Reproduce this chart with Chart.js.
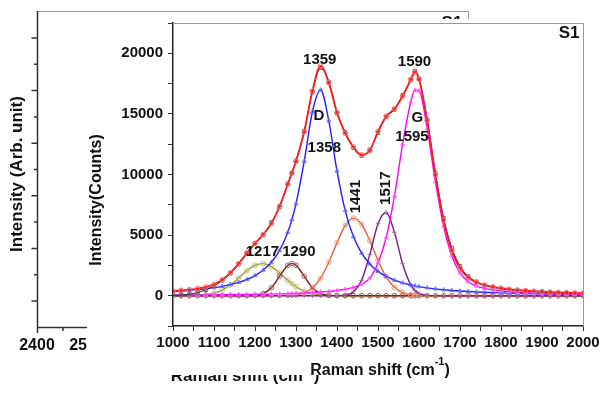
<!DOCTYPE html>
<html>
<head>
<meta charset="utf-8">
<script src="https://cdn.jsdelivr.net/npm/chart.js@4.4.0/dist/chart.umd.min.js"></script>
<style>
  html, body { margin: 0; padding: 0; background: #fff; }
  #wrap { width: 604px; height: 394px; }
</style>
</head>
<body>
<div id="wrap"><canvas id="ramanChart" width="604" height="394"></canvas></div>
<script>
// Raman shift (cm-1) sampling of the spectrum
const ramanShift = [1000, 1020, 1040, 1060, 1080, 1100, 1120, 1140, 1160, 1180, 1200, 1220, 1240, 1260, 1280, 1290,
  1300, 1320, 1340, 1360, 1380, 1400, 1420, 1440, 1460, 1480, 1500, 1520, 1540, 1560, 1580, 1590,
  1600, 1620, 1640, 1660, 1680, 1700, 1720, 1740, 1760, 1780, 1800, 1820, 1840, 1860, 1880, 1900,
  1920, 1940, 1960, 1980, 2000];

// measured spectrum (black squares)
const measured = [30, 60, 120, 260, 480, 800, 1250, 1850, 2600, 3550, 4350, 5000, 6050, 7300, 9250, 10100,
  11150, 13600, 16800, 18800, 17650, 15050, 13500, 12200, 11550, 12050, 13450, 14750, 15350, 16550, 17800, 18550,
  17900, 14500, 10100, 6400, 3950, 2450, 1600, 1150, 850, 700, 580, 500, 430, 380, 330, 300,
  260, 240, 210, 190, 170];

// cumulative fit (red)
const fitTotal = [399, 447, 507, 590, 721, 945, 1315, 1883, 2640, 3496, 4311, 5054, 5962, 7380, 9198, 10130,
  11088, 13518, 16893, 18960, 17582, 15109, 13397, 12273, 11623, 11988, 13558, 14814, 15419, 16452, 17840, 18450,
  17863, 14457, 9968, 6235, 3721, 2262, 1499, 1104, 879, 731, 623, 540, 473, 418, 374, 336,
  304, 277, 253, 233, 215];

// fitted bands
const peakD = [351, 393, 443, 502, 575, 664, 774, 915, 1097, 1337, 1661, 2114, 2765, 3735, 5231, 6273,
  7576, 11082, 15179, 16975, 14419, 10291, 7020, 4875, 3507, 2614, 2010, 1588, 1283, 1057, 884, 813,
  750, 644, 559, 489, 432, 384, 344, 309, 280, 254, 232, 213, 196, 180, 167, 155,
  144, 135, 126, 118, 111];

const peakG = [48, 52, 56, 60, 64, 70, 76, 82, 90, 99, 109, 121, 134, 151, 170, 181,
  193, 222, 257, 301, 357, 430, 532, 683, 945, 1453, 2700, 4800, 8200, 12500, 16000, 16950,
  16900, 13780, 9406, 5746, 3289, 1878, 1155, 795, 599, 477, 391, 327, 277, 238, 207, 181,
  160, 142, 127, 115, 104];

const peak1217 = [0, 2, 8, 28, 82, 211, 465, 886, 1453, 2057, 2512, 2645, 2403, 1882, 1272, 989,
  741, 373, 161, 60, 20, 5, 1, 0, 0, 0, 0, 0, 0, 0, 0, 0,
  0, 0, 0, 0, 0, 0, 0, 0, 0, 0, 0, 0, 0, 0, 0, 0,
  0, 0, 0, 0, 0];

const peak1290 = [0, 0, 0, 0, 0, 0, 0, 0, 0, 3, 29, 174, 660, 1608, 2507, 2650,
  2507, 1608, 660, 174, 29, 3, 0, 0, 0, 0, 0, 0, 0, 0, 0, 0,
  0, 0, 0, 0, 0, 0, 0, 0, 0, 0, 0, 0, 0, 0, 0, 0,
  0, 0, 0, 0, 0];

const peak1441 = [0, 0, 0, 0, 0, 0, 0, 0, 0, 0, 0, 0, 0, 4, 18, 37,
  71, 233, 636, 1450, 2757, 4374, 5792, 6399, 5898, 4536, 2911, 1558, 696, 259, 81, 42,
  21, 5, 0, 0, 0, 0, 0, 0, 0, 0, 0, 0, 0, 0, 0, 0,
  0, 0, 0, 0, 0];

const peak1517 = [0, 0, 0, 0, 0, 0, 0, 0, 0, 0, 0, 0, 0, 0, 0, 0,
  0, 0, 0, 0, 0, 6, 52, 316, 1273, 3385, 5937, 6868, 5240, 2636, 875, 431,
  192, 28, 3, 0, 0, 0, 0, 0, 0, 0, 0, 0, 0, 0, 0, 0,
  0, 0, 0, 0, 0];

const yTickLabels = [0, 5000, 10000, 15000, 20000];

// peak annotations (text, x in cm-1, y in counts, rotated?)
const peakNotes = [
  { text: "1359", x: 1358, y: 19470 },
  { text: "D", x: 1356, y: 14850 },
  { text: "1358", x: 1369, y: 12210 },
  { text: "1590", x: 1589, y: 19265 },
  { text: "G", x: 1596, y: 14690 },
  { text: "1595", x: 1583, y: 13120 },
  { text: "1217", x: 1218, y: 3630 },
  { text: "1290", x: 1307, y: 3630 },
  { text: "1441", x: 1445, y: 8170, rotate: true },
  { text: "1517", x: 1519, y: 8870, rotate: true },
];

const FONT = '"Liberation Sans", Arial, sans-serif';

function series(label, values, color, markColor, style, width) {
  return {
    label: label,
    data: ramanShift.map((x, i) => ({ x: x, y: values[i] })),
    borderColor: color,
    borderWidth: width || 1.4,
    pointStyle: style,
    pointRadius: 2.3,
    pointBorderWidth: 1,
    pointBorderColor: markColor,
    pointBackgroundColor: "rgba(0,0,0,0)",
    cubicInterpolationMode: "monotone",
    fill: false,
  };
}

function superTitle(ctx, cx, base, size) {
  const main = "Raman shift (cm";
  ctx.font = "bold " + size + "px " + FONT;
  const w1 = ctx.measureText(main).width;
  const w3 = ctx.measureText(")").width;
  ctx.font = "bold " + Math.round(size * 0.7) + "px " + FONT;
  const w2 = ctx.measureText("-1").width;
  let x = cx - (w1 + w2 + w3) / 2;
  ctx.textAlign = "left";
  ctx.textBaseline = "alphabetic";
  ctx.font = "bold " + size + "px " + FONT;
  ctx.fillText(main, x, base);
  ctx.font = "bold " + Math.round(size * 0.7) + "px " + FONT;
  ctx.fillText("-1", x + w1, base - size * 0.6);
  ctx.font = "bold " + size + "px " + FONT;
  ctx.fillText(")", x + w1 + w2, base);
}

// the other panel peeking out behind the main plot
const backPanel = {
  id: "backPanel",
  beforeDraw(chart) {
    const ctx = chart.ctx;
    ctx.save();
    ctx.fillStyle = "#fff";
    ctx.fillRect(0, 0, chart.width, chart.height);

    ctx.strokeStyle = "#999";
    ctx.lineWidth = 1;
    ctx.beginPath();
    ctx.moveTo(37, 11.5);
    ctx.lineTo(468.5, 11.5);
    ctx.lineTo(468.5, 40);
    ctx.stroke();

    ctx.strokeStyle = "#333";
    ctx.lineWidth = 1.5;
    ctx.beginPath();
    ctx.moveTo(37.5, 11);
    ctx.lineTo(37.5, 327.5);
    ctx.lineTo(120, 327.5);
    for (let k = 1; k <= 11; k++) {
      const y = 11.7 + k * 26.3;
      const len = k % 2 ? 6 : 3.5;
      ctx.moveTo(37.5 - len, y);
      ctx.lineTo(37.5, y);
    }
    ctx.moveTo(37.5, 327.5);
    ctx.lineTo(37.5, 333);
    ctx.moveTo(63, 327.5);
    ctx.lineTo(63, 331);
    ctx.stroke();

    ctx.fillStyle = "#111";
    ctx.font = "bold 16px " + FONT;
    ctx.textAlign = "center";
    ctx.textBaseline = "middle";
    ctx.fillText("2400", 37, 346);
    ctx.fillText("2500", 87, 346);
    ctx.font = "bold 17px " + FONT;
    ctx.fillText("S1", 452, 23);

    ctx.save();
    ctx.translate(17, 174);
    ctx.rotate(-Math.PI / 2);
    ctx.font = "bold 17px " + FONT;
    ctx.fillText("Intensity (Arb. unit)", 0, 0);
    ctx.restore();

    superTitle(ctx, 245, 381, 17);

    // main panel background
    ctx.fillStyle = "#fff";
    ctx.fillRect(87, 19, 517, 356);
    ctx.restore();
  },
};

const annotate = {
  id: "annotate",
  afterDatasetsDraw(chart) {
    const ctx = chart.ctx;
    const a = chart.chartArea;
    const sx = chart.scales.x;
    const sy = chart.scales.y;
    ctx.save();
    ctx.strokeStyle = "#999";
    ctx.lineWidth = 1;
    ctx.beginPath();
    ctx.moveTo(a.left, a.top + 0.5);
    ctx.lineTo(a.right + 0.5, a.top + 0.5);
    ctx.lineTo(a.right + 0.5, a.bottom);
    ctx.stroke();

    ctx.fillStyle = "#111";
    ctx.font = "bold 15px " + FONT;
    ctx.textAlign = "center";
    ctx.textBaseline = "middle";
    peakNotes.forEach((n) => {
      const px = sx.getPixelForValue(n.x);
      const py = sy.getPixelForValue(n.y);
      if (n.rotate) {
        ctx.save();
        ctx.translate(px, py);
        ctx.rotate(-Math.PI / 2);
        ctx.fillText(n.text, 0, 0);
        ctx.restore();
      } else {
        ctx.fillText(n.text, px, py);
      }
    });
    ctx.font = "bold 17px " + FONT;
    ctx.fillText("S1", sx.getPixelForValue(1966), sy.getPixelForValue(21620));
    ctx.restore();
  },
  afterDraw(chart) {
    const ctx = chart.ctx;
    ctx.save();
    ctx.fillStyle = "#111";
    ctx.textAlign = "center";
    ctx.textBaseline = "middle";
    ctx.translate(97, 200);
    ctx.rotate(-Math.PI / 2);
    ctx.font = "bold 16px " + FONT;
    ctx.fillText("Intensity(Counts)", 0, 0);
    ctx.restore();
    ctx.save();
    ctx.fillStyle = "#111";
    superTitle(ctx, 380, 375, 16);
    ctx.restore();
  },
};

new Chart(document.getElementById("ramanChart"), {
  type: "line",
  data: {
    datasets: [
      series("Fit", fitTotal, "#ff1a1a", "#ff6a6a", "circle", 1.8),
      series("Measured", measured, "#1a1a1a", "#666", "rect", 1),
      series("G", peakG, "#ff00ff", "#ff70ff", "triangle"),
      series("D", peakD, "#2020ff", "#7070ff", "triangle"),
      series("1517", peak1517, "#7a1a7a", "#a060a0", "cross"),
      series("1441", peak1441, "#e0603c", "#f0a080", "circle"),
      series("1290", peak1290, "#7a1818", "#a86060", "circle"),
      series("1217", peak1217, "#9a9a2a", "#c0c070", "circle"),
    ],
  },
  options: {
    responsive: false,
    animation: false,
    layout: { padding: { left: 0, top: 23, right: 21, bottom: 0 } },
    scales: {
      x: {
        type: "linear",
        min: 1000,
        max: 2000,
        afterFit: (s) => { s.height = 68; },
        grid: { drawOnChartArea: false, drawTicks: true, tickLength: 5, color: "#333" },
        border: { color: "#222", width: 1.5 },
        ticks: {
          stepSize: 50,
          autoSkip: false,
          maxRotation: 0,
          padding: 3,
          color: "#111",
          font: { family: FONT, size: 15, weight: "bold" },
          callback: (v) => (v % 100 === 0 ? String(v) : ""),
        },
      },
      y: {
        min: -2500,
        max: 22500,
        afterFit: (s) => { s.width = 173; },
        grid: { drawOnChartArea: false, drawTicks: true, tickLength: 5, color: "#333" },
        border: { color: "#222", width: 1.5 },
        ticks: {
          stepSize: 2500,
          autoSkip: false,
          padding: 5,
          color: "#111",
          font: { family: FONT, size: 15, weight: "bold" },
          callback: (v) => (yTickLabels.includes(v) ? String(v) : ""),
        },
      },
    },
    plugins: {
      legend: { display: false },
      tooltip: { enabled: false },
    },
  },
  plugins: [backPanel, annotate],
});
</script>
</body>
</html>
